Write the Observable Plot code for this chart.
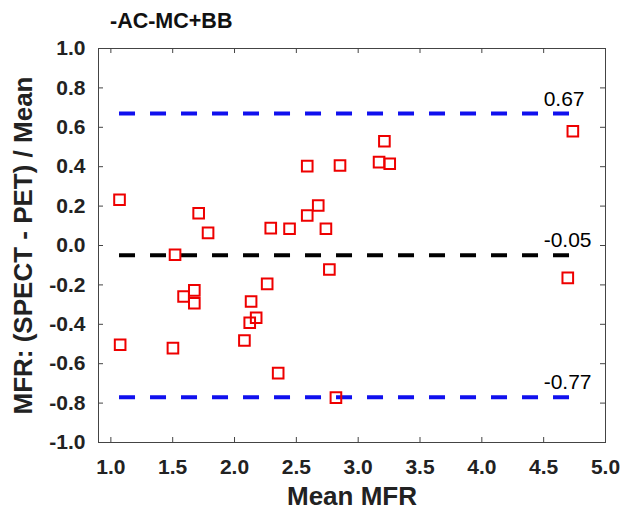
<!DOCTYPE html>
<html>
<head>
<meta charset="utf-8">
<script src="https://cdn.jsdelivr.net/npm/d3@7"></script>
<script src="https://cdn.jsdelivr.net/npm/@observablehq/plot@0.6"></script>
<style>
  body { margin: 0; background: #fff; font-family: "Liberation Sans", Arial, sans-serif; }
  #title { height: 33px; line-height: 36px; padding-top: 3px; padding-left: 110px; font-weight: bold; font-size: 21.5px; color: #111; }
</style>
</head>
<body>
<div id="title">-AC-MC+BB</div>
<div id="chart"></div>
<script>
// Data (Bland–Altman style plot)
const meanMFR = [1.07, 2.588, 2.853, 1.71, 1.786, 2.293, 2.445, 2.588, 2.677, 2.739,
                 1.519, 4.736, 3.212, 3.169, 3.255, 2.767, 2.264, 1.675, 1.588, 1.675,
                 2.134, 2.175, 2.123, 2.08, 1.075, 1.502, 2.353, 2.82, 4.695];
const diffRatio = [0.232, 0.403, 0.406, 0.164, 0.064, 0.088, 0.085, 0.152, 0.203, 0.085,
                   -0.047, 0.58, 0.529, 0.423, 0.415, -0.122, -0.195, -0.228, -0.259, -0.293,
                   -0.284, -0.367, -0.392, -0.482, -0.504, -0.521, -0.648, -0.772, -0.164];

const limitValues = [0.67, -0.05, -0.77];
const limitLabels = ["0.67", "-0.05", "-0.77"];
const limitColors = ["#1010ee", "#000000", "#1010ee"];
const labelX = 4.5;

const xTicks = [1.0, 1.5, 2.0, 2.5, 3.0, 3.5, 4.0, 4.5, 5.0];
const yTicks = [-1.0, -0.8, -0.6, -0.4, -0.2, 0.0, 0.2, 0.4, 0.6, 0.8, 1.0];
const xDomain = [0.9, 5.0];
const yDomain = [-1.0, 1.0];

const xLabel = "Mean MFR";
const yLabel = "MFR: (SPECT - PET) / Mean";

const points = meanMFR.map((m, i) => ({mean: m, diff: diffRatio[i]}));
const limits = limitValues.map((v, i) => ({value: v, label: limitLabels[i], color: limitColors[i]}));
const xMin = d3.min(meanMFR), xMax = d3.max(meanMFR);

const W = 627, H = 478, mL = 98, mR = 22, mT = 12, mB = 72;
const frameW = W - mL - mR, frameH = H - mT - mB;
const tickLen = 5;

const fmt = d => d.toFixed(1);
const axisColor = "#444";

const chart = Plot.plot({
  width: W,
  height: H,
  marginLeft: mL,
  marginRight: mR,
  marginTop: mT,
  marginBottom: mB,
  x: {domain: xDomain},
  y: {domain: yDomain},
  color: {type: "identity"},
  style: {fontFamily: '"Liberation Sans", Arial, sans-serif', background: "white", overflow: "visible"},
  marks: [
    Plot.ruleY(limits, {y: "value", x1: xMin, x2: xMax, stroke: "color", strokeWidth: 4, strokeDasharray: "16,15"}),
    Plot.text(limits, {x: labelX, y: "value", text: "label", textAnchor: "start", lineAnchor: "bottom", dy: -8, fontSize: 21, fill: "#000"}),
    Plot.dot(points, {x: "mean", y: "diff", symbol: "square", r: 6, stroke: "#ee0000", strokeWidth: 2, fill: "none"}),
    Plot.frame({stroke: axisColor, strokeWidth: 1}),
    // inward ticks on all four sides
    Plot.tickX(xTicks, {x: d => d, insetTop: frameH - tickLen, stroke: axisColor}),
    Plot.tickX(xTicks, {x: d => d, insetBottom: frameH - tickLen, stroke: axisColor}),
    Plot.tickY(yTicks, {y: d => d, insetRight: frameW - tickLen, stroke: axisColor}),
    Plot.tickY(yTicks, {y: d => d, insetLeft: frameW - tickLen, stroke: axisColor}),
    // tick labels
    Plot.axisX(xTicks, {anchor: "bottom", tickSize: 0, tickPadding: 17, tickFormat: fmt, fontSize: 21, fontWeight: "bold", fill: "#222", label: null}),
    Plot.axisY(yTicks, {anchor: "left", tickSize: 0, tickPadding: 13, tickFormat: fmt, fontSize: 21, fontWeight: "bold", fill: "#222", label: null}),
    // axis titles
    Plot.axisX([], {anchor: "bottom", tickSize: 0, label: xLabel, labelAnchor: "center", labelArrow: "none", labelOffset: 62, fontSize: 26, fontWeight: "bold", fill: "#222"}),
    Plot.axisY([], {anchor: "left", tickSize: 0, label: yLabel, labelAnchor: "center", labelArrow: "none", labelOffset: 85, fontSize: 26, fontWeight: "bold", fill: "#222"})
  ]
});
document.getElementById("chart").appendChild(chart);
</script>
</body>
</html>
